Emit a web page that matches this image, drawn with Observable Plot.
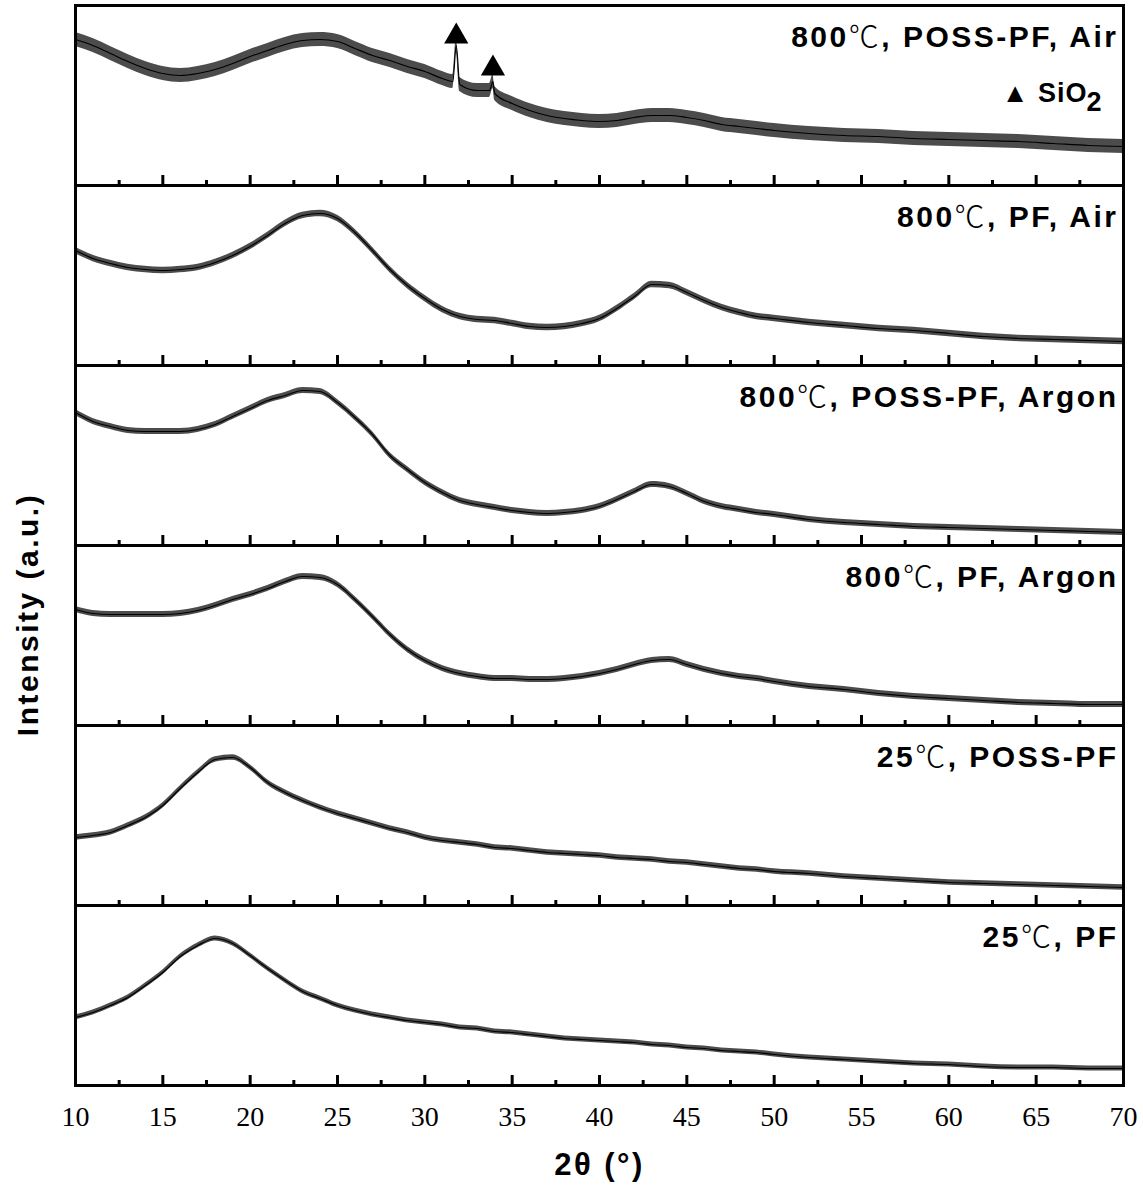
<!DOCTYPE html>
<html><head><meta charset="utf-8">
<script src="https://cdn.jsdelivr.net/npm/d3@7"></script>
<script src="https://cdn.jsdelivr.net/npm/@observablehq/plot@0.6"></script>
<style>
body{margin:0;background:#fff}
#chart{width:1143px;height:1187px}
</style>
</head><body><div id="chart"></div>
<script>
const panels = ["800℃, POSS-PF, Air", "800℃, PF, Air", "800℃, POSS-PF, Argon", "800℃, PF, Argon", "25℃, POSS-PF", "25℃, PF"];
const angles = [10,11,12,13,14,15,16,17,18,19,20,21,22,23,24,25,26,27,28,29,30,31,32,33,34,35,36,37,38,39,40,41,42,43,44,45,46,47,48,49,50,52,54,56,58,60,62,64,66,68,70];
const possAir = [146,140,132,124,117,112,110,112,116,122,129,135,141,145,146,144,137,130,125,119,114,107,101,95,92,82,75,70,67,65,64,65,68,70,70,68,65,61,59,57,55,52,50,49,47,46,45,44,42,40,39];
const pfAir   = [115,107,102,98,96,95,96,98,103,110,119,130,142,150,152,147,133,115,96,80,67,56,49,46,45,42,39,38,39,42,47,57,69,81,80,73,65,58,53,49,47,43,40,37,35,32,29,27,26,25,24];
const possAr  = [133,124,119,115,114,114,114,116,121,129,137,145,150,155,154,143,128,111,90,76,63,53,45,41,38,35,33,32,33,35,39,46,54,61,59,52,44,39,36,33,31,26,23,21,19,18,17,16,15,14,13];
const pfAr    = [116,112,111,111,111,111,112,115,120,126,131,137,144,149,148,141,126,109,91,76,65,57,52,49,47,47,46,46,47,49,52,56,61,65,66,61,56,52,49,47,44,39,36,32,29,27,25,23,22,21,21];
const poss25  = [68,70,73,80,88,100,117,133,146,148,138,123,113,105,98,92,87,82,77,73,68,65,63,61,58,57,55,53,52,51,50,48,47,46,44,43,41,39,37,36,34,32,29,27,25,23,22,21,20,19,18];
const pf25    = [68,73,80,88,100,113,129,140,147,142,130,117,105,94,87,80,75,71,68,65,63,61,58,57,54,53,51,49,47,46,45,44,43,41,40,38,37,35,34,33,31,28,26,24,22,21,19,18,18,17,17];
// sharp SiO2 reflections on the POSS-PF / Air pattern
const sio2Angles = [31.6, 31.8, 33.7, 33.9];
const sio2Values = [104, 140, 95, 104];
const sio2MarkAngles = [31.8, 33.9];
const sio2Marks  = [149, 117];
// noise half-width of each trace (intensity units)
const noiseAmp = [7, 3.2, 3, 3, 2.7, 2.5];
const majorTicks = [15,20,25,30,35,40,45,50,55,60,65];
const minorTicks = [12.5,17.5,22.5,27.5,32.5,37.5,42.5,47.5,52.5,57.5,62.5,67.5];
const tickLabels = [10,15,20,25,30,35,40,45,50,55,60,65,70];
const majorLen = 10, minorLen = 5;

const series = [possAir, pfAir, possAr, pfAr, poss25, pf25];
const rows = [];
series.forEach((vals, i) => {
  let pts = angles.map((a, j) => ({x: a, y: vals[j]}));
  if (i === 0) {
    sio2Angles.forEach((a, j) => pts.push({x: a, y: sio2Values[j]}));
    pts.sort((a, b) => a.x - b.x);
  }
  pts.forEach(p => rows.push({panel: panels[i], x: p.x, y: p.y, lo: p.y - noiseAmp[i], hi: p.y + noiseAmp[i]}));
});
const markRows = sio2MarkAngles.map((a, j) => ({panel: panels[0], x: a, y: sio2Marks[j]}));

const sans = "'Liberation Sans', Arial, 'DejaVu Sans', sans-serif";
const serif = "'Liberation Serif', 'Times New Roman', serif";
const yTitle = "Intensity (a.u.)", xTitle = "2θ (°)";

const chart = Plot.plot({
  width: 1143,
  height: 1187,
  marginTop: 5,
  marginBottom: 102,
  marginLeft: 75,
  marginRight: 20,
  style: {background: "#fff", color: "#000", fontFamily: sans},
  x: {domain: [10, 70], axis: null},
  y: {domain: [0, 180], axis: null},
  fy: {domain: panels, axis: null, padding: 0},
  marks: [
    Plot.areaY(rows, {x: "x", y1: "lo", y2: "hi", fy: "panel", fill: "#000", fillOpacity: 0.7, curve: "monotone-x"}),
    Plot.line(rows, {x: "x", y: "y", fy: "panel", stroke: "#000", strokeWidth: 1.2, curve: "monotone-x"}),
    Plot.frame({stroke: "#000", strokeWidth: 3}),
    Plot.ruleX(majorTicks, {x: d => d, y1: 0, y2: majorLen, stroke: "#000", strokeWidth: 3}),
    Plot.ruleX(minorTicks, {x: d => d, y1: 0, y2: minorLen, stroke: "#000", strokeWidth: 3}),
    Plot.axisX({ticks: tickLabels, tickSize: 0, tickPadding: 21, anchor: "bottom", fontSize: 28, fontFamily: serif, label: null, lineAnchor: "top"}),
    Plot.dot(markRows, {x: "x", y: "y", fy: "panel", symbol: "triangle", r: 9, fill: "#000", stroke: "none"}),
    Plot.text(panels, {fy: d => d, text: d => d, frameAnchor: "top-right", dx: -5, dy: 32, lineAnchor: "middle", textAnchor: "end", fontSize: 30, fontWeight: "bold", fontFamily: sans}),
    Plot.text(["▲ SiO"], {fy: () => panels[0], text: d => d, frameAnchor: "top-right", dx: -36, dy: 88, lineAnchor: "middle", textAnchor: "end", fontSize: 27, fontWeight: "bold", fontFamily: sans}),
    Plot.text(["2"], {fy: () => panels[0], text: d => d, frameAnchor: "top-right", dx: -21, dy: 97, lineAnchor: "middle", textAnchor: "end", fontSize: 27, fontWeight: "bold", fontFamily: sans}),
    Plot.text([xTitle], {fy: () => panels[5], text: d => d, frameAnchor: "bottom", dy: 80, lineAnchor: "middle", fontSize: 31, fontWeight: "bold", fontFamily: sans}),
    Plot.text([yTitle], {fy: () => panels[3], text: d => d, frameAnchor: "top-left", dx: -47, dy: 69, rotate: -90, lineAnchor: "middle", textAnchor: "middle", fontSize: 30, fontWeight: "bold", fontFamily: sans})
  ]
});
document.getElementById("chart").appendChild(chart);

// letter spacing of the bold labels, and a light-weight degree-Celsius sign as in the original figure
d3.select(chart).selectAll("text").each(function() {
  const el = d3.select(this);
  const t = el.text();
  if (t === xTitle || t === yTitle) el.style("letter-spacing", "2.5px");
  if (t === "▲ SiO" || t === "2") el.style("letter-spacing", "1px");
  if (t.includes("℃")) {
    el.style("letter-spacing", "2.5px");
    const parts = t.split("℃");
    el.text(null);
    parts.forEach((p, k) => {
      if (k > 0) el.append("tspan").style("font-family", "'Noto Sans CJK SC', 'DejaVu Sans', sans-serif").style("font-weight", "300").text("℃");
      el.append("tspan").text(p);
    });
  }
});
</script>
</body></html>
